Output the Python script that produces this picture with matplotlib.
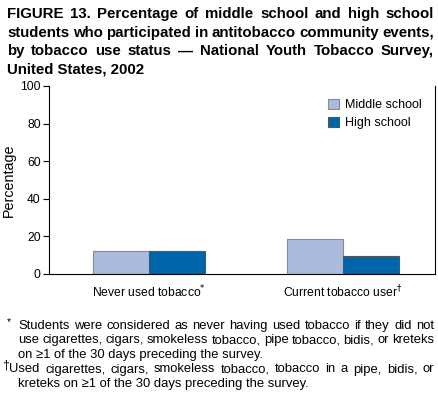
import numpy as np
import matplotlib.pyplot as plt

plt.rcParams['font.family'] = ['Liberation Sans', 'DejaVu Sans']

# Data
categories = ["Never used tobacco$^{*}$", "Current tobacco user$^{\\dagger}$"]
middle_school = [12, 18.5]
high_school = [12, 9.8]
yticks = [0, 20, 40, 60, 80, 100]

title_lines = [
    "FIGURE 13. Percentage of middle school and high school",
    "students who participated in antitobacco community events,",
    "by tobacco use status \u2014 National Youth Tobacco Survey,",
    "United States, 2002",
]
footnotes = [
    "Students were considered as never having used tobacco if they did not",
    "use cigarettes, cigars, smokeless tobacco, pipe tobacco, bidis, or kreteks",
    "on \u22651 of the 30 days preceding the survey.",
    "Used cigarettes, cigars, smokeless tobacco, tobacco in a pipe, bidis, or",
    "kreteks on \u22651 of the 30 days preceding the survey.",
]

W, H = 439, 395
fig = plt.figure(figsize=(W / 100, H / 100), dpi=100)
ax = fig.add_axes([49 / W, 1 - 274 / H, 386 / W, 188 / H])

x = np.arange(len(categories))
w = 0.288
ax.bar(x - w / 2, middle_school, w, color="#aabbdd", edgecolor="#8a8a8a",
       linewidth=0.8, label="Middle school")
ax.bar(x + w / 2, high_school, w, color="#0066aa", edgecolor="#555555",
       linewidth=0.8, label="High school")

ax.set_xlim(-0.515, 1.473)
ax.set_ylim(0, 100)
ax.set_yticks(yticks)
ax.set_xticks(x)
ax.set_xticklabels(categories, fontsize=8.7)
ax.tick_params(axis="x", length=0, pad=7)
ax.tick_params(axis="y", labelsize=8.7, length=4, width=0.8, pad=2)
ax.set_ylabel("Percentage", fontsize=10.3, labelpad=3)
ax.spines["top"].set_visible(False)
for s in ["left", "right", "bottom"]:
    ax.spines[s].set_linewidth(0.8)

ax.legend(loc="upper right", bbox_to_anchor=(0.995, 0.99), frameon=False,
          fontsize=9, handlelength=0.85, handleheight=0.85, handletextpad=0.5,
          labelspacing=0.45)

fig.canvas.draw()
renderer = fig.canvas.get_renderer()


def put_line(text, x0, x1, y, justify, fontsize, **kw):
    # y is the middle of the capitals; words sit on a common baseline
    yb = 1 - (y + 0.36 * fontsize * 100 / 72) / H
    if not justify:
        fig.text(x0 / W, yb, text, va="baseline", ha="left", fontsize=fontsize, **kw)
        return
    words = text.split(" ")
    objs = [fig.text(0, yb, wd, va="baseline", ha="left", fontsize=fontsize, **kw)
            for wd in words]
    widths = [o.get_window_extent(renderer).width for o in objs]
    gap = (x1 - x0 - sum(widths)) / (len(words) - 1)
    pos = x0
    for o, wd in zip(objs, widths):
        o.set_x(pos / W)
        pos += wd + gap


# Title
for i, line in enumerate(title_lines):
    put_line(line, 7, 434, 13 + i * 18.5, i < 3, 10.8, fontweight="bold")

# Footnotes
starts = [18, 18, 18, 9.5, 18]
justified = [True, True, False, True, False]
for i, line in enumerate(footnotes):
    put_line(line, starts[i], 434, 324 + i * 14.6, justified[i], 9.4)
fig.text(6.5 / W, 1 - 322 / H, "*", fontsize=7.5, va="center", ha="left")
fig.text(2.5 / W, 1 - 365 / H, "\u2020", fontsize=9, va="center", ha="left")

fig.savefig("out.png", dpi=100)
